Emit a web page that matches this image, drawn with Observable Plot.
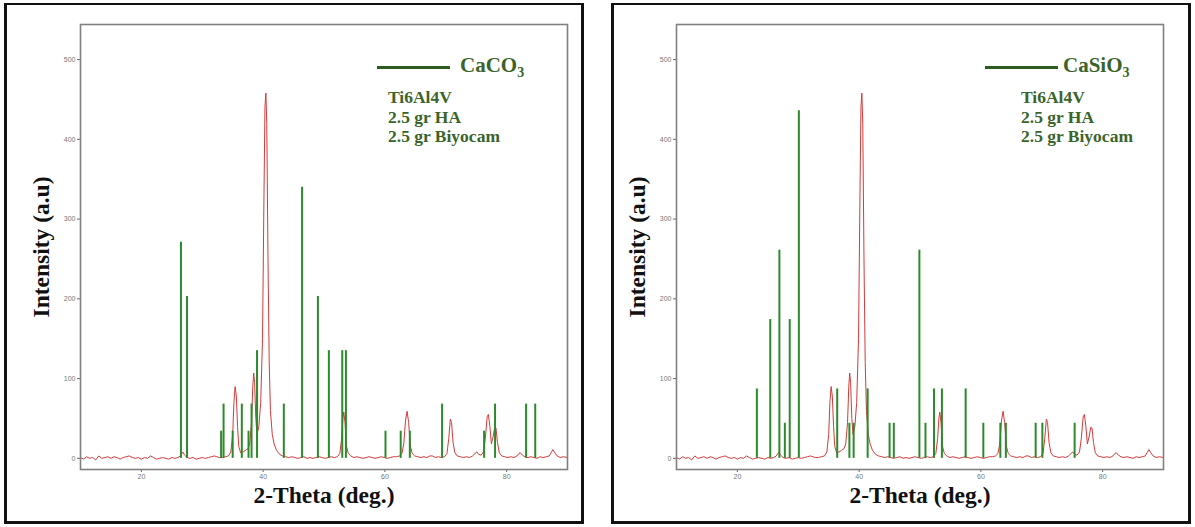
<!DOCTYPE html>
<html>
<head>
<meta charset="utf-8">
<script src="https://cdn.jsdelivr.net/npm/d3@7"></script>
<script src="https://cdn.jsdelivr.net/npm/@observablehq/plot@0.6"></script>
<style>
  html, body { margin: 0; padding: 0; background: #fff; }
  body { position: relative; width: 1195px; height: 527px; overflow: hidden; }
  .box { position: absolute; box-sizing: border-box; border: 3px solid #111; border-top-width: 2px; }
  .chart { position: absolute; top: 0; }
  .leg-line { position: absolute; height: 2.5px; background: #2d5c20; }
  .leg-title { position: absolute; font: bold 21px "Liberation Serif", "Times New Roman", serif; line-height: 20px; color: #3b642a; white-space: nowrap; }
  .leg-title sub { font-size: 14px; vertical-align: -5px; line-height: 0; }
  .leg-body { position: absolute; font: bold 17.5px "Liberation Serif", "Times New Roman", serif; line-height: 19.5px; color: #3b642a; white-space: nowrap; }
</style>
</head>
<body>
<div class="box" style="left:4px;top:3px;width:580px;height:521px;"></div>
<div class="box" style="left:611px;top:3px;width:580px;height:521px;"></div>
<div id="left" class="chart" style="left:0px;"></div>
<div id="right" class="chart" style="left:596px;"></div>

<div class="leg-line" style="left:377px;top:66px;width:73px;"></div>
<div class="leg-title" style="left:460px;top:55px;">CaCO<sub>3</sub></div>
<div class="leg-body" style="left:388px;top:88px;">Ti6Al4V<br>2.5 gr HA<br>2.5 gr Biyocam</div>

<div class="leg-line" style="left:985px;top:66px;width:73px;"></div>
<div class="leg-title" style="left:1063px;top:55px;">CaSiO<sub>3</sub></div>
<div class="leg-body" style="left:1021px;top:88px;">Ti6Al4V<br>2.5 gr HA<br>2.5 gr Biyocam</div>

<script>
// ---- Data ----
const xTicks = [20, 40, 60, 80];
const yTicks = [0, 100, 200, 300, 400, 500];

// Measured XRD pattern (2-theta, intensity) — same sample in both panels
const patternTheta = [
  10,10.5,11,11.5,12,12.5,13,13.5,14,14.5,15,15.5,16,16.5,17,17.5,18,18.5,19,19.5,
  20,20.5,21,21.5,22,22.5,23,23.5,24,24.5,25,25.5,26,26.4,26.8,27.1,27.5,28,28.5,29,
  29.5,30,30.5,31,31.5,32,32.4,32.8,33.3,33.8,34.3,34.7,35.0,35.2,35.4,35.6,35.8,36.0,36.3,36.7,
  37.1,37.5,37.8,38.1,38.3,38.45,38.6,38.8,39.0,39.3,39.6,39.9,40.1,40.3,40.45,40.6,40.8,41.0,41.2,41.5,
  41.8,42.2,42.7,43.2,43.7,44.2,44.7,45.2,45.7,46.2,46.7,47.2,47.7,48.2,48.7,49.2,49.7,50.2,50.7,51.2,
  51.7,52.2,52.6,52.9,53.1,53.25,53.45,53.7,54.0,54.4,54.9,55.4,55.9,56.4,56.9,57.4,57.9,58.4,58.9,59.4,
  59.9,60.4,60.9,61.4,61.9,62.4,62.8,63.1,63.4,63.65,63.9,64.2,64.5,64.9,65.4,65.9,66.4,66.9,67.4,67.8,
  68.3,68.8,69.3,69.8,70.2,70.5,70.75,70.95,71.2,71.5,71.9,72.4,72.9,73.4,73.9,74.4,74.8,75.1,75.4,75.8,
  76.2,76.5,76.8,77.0,77.25,77.5,77.8,78.05,78.25,78.5,78.8,79.2,79.7,80.2,80.7,81.2,81.7,82.0,82.25,82.6,
  83.0,83.5,84.0,84.5,85.0,85.5,86.0,86.5,87.0,87.3,87.6,87.9,88.3,88.8,89.3,90
];
const patternIntensity = [
  1,-1,2,0,1,-2,3,0,1,2,0,2,1,-1,1,2,3,1,0,1,
  -1,1,0,3,1,-1,0,1,0,-1,1,0,1,3,8,4,1,0,1,-1,
  0,1,0,1,2,3,2,1,1,2,3,8,30,70,90,78,40,15,7,8,
  10,12,18,45,90,107,95,50,30,40,70,150,300,440,458,420,250,120,60,30,
  18,10,5,3,2,1,2,1,0,1,2,0,1,0,1,2,1,0,1,2,
  1,2,6,25,50,58,45,15,6,3,1,2,1,0,1,2,1,0,1,2,
  1,0,1,2,2,3,6,18,48,59,45,15,6,3,2,1,2,1,3,3,
  1,2,1,2,6,25,49,45,20,7,3,2,1,2,1,3,6,8,5,4,
  8,25,52,55,40,18,28,39,38,20,7,3,2,1,2,1,3,6,7,4,
  2,1,2,1,0,2,1,2,3,7,11,7,3,1,2,1
];

// Reference stick pattern: CaCO3
const caco3Theta = [26.5,27.5,33.1,33.5,35.0,36.5,37.6,38.1,39.0,43.4,46.4,49.0,50.8,53.0,53.6,60.1,62.6,64.1,69.4,76.3,78.1,83.2,84.7];
const caco3Intensity = [271,203,34,68,34,68,34,68,135,68,340,203,135,135,135,34,34,34,68,34,68,68,68];

// Reference stick pattern: CaSiO3
const casio3Theta = [23.2,25.4,26.9,27.8,28.6,30.1,36.4,38.4,39.1,41.4,45.0,45.7,49.9,50.9,52.3,53.6,57.5,60.4,63.2,64.1,69.0,70.1,75.4];
const casio3Intensity = [87,174,261,44,174,436,87,44,44,87,44,44,261,44,87,87,87,44,44,44,44,44,44];

// ---- Build tables ----
const pattern = patternTheta.map((t, i) => ({t, v: patternIntensity[i]}));
const sticks = (th, iv) => th.map((t, i) => ({t, v: iv[i]}));

function panel(stickData, marginLeft, marginRight) {
  return Plot.plot({
    width: 595, height: 527,
    marginLeft, marginRight, marginTop: 24, marginBottom: 58,
    style: {background: "transparent", overflow: "visible"},
    x: {domain: [10, 90], ticks: xTicks},
    y: {domain: [-14, 544], ticks: yTicks},
    marks: [
      Plot.axisX({ticks: xTicks, tickSize: 3, tickPadding: 2, fontSize: 7, stroke: "#666", fill: "#777",
                  fontFamily: "Liberation Sans, Arial, sans-serif", label: null}),
      Plot.axisY({ticks: yTicks, tickSize: 3, tickPadding: 2, fontSize: 7, stroke: "#666", fill: "#777",
                  fontFamily: "Liberation Sans, Arial, sans-serif", label: null}),
      Plot.line(pattern, {x: "t", y: "v", stroke: "#d43a3a", strokeWidth: 1}),
      Plot.ruleX(stickData, {x: "t", y1: 0, y2: "v", stroke: "#2b8a2b", strokeWidth: 2}),
      Plot.frame({stroke: "#808080", strokeWidth: 1.6}),
      Plot.text(["2-Theta (deg.)"], {frameAnchor: "bottom", dy: 33, text: d => d, fontSize: 23.5,
                 textAnchor: "middle", fontWeight: "bold", fontFamily: "Liberation Serif, Times New Roman, serif", fill: "#111"}),
      Plot.text(["Intensity (a.u)"], {frameAnchor: "left", dx: -39, rotate: -90, text: d => d, fontSize: 23.5,
                 textAnchor: "middle", fontWeight: "bold", fontFamily: "Liberation Serif, Times New Roman, serif", fill: "#111"})
    ]
  });
}

document.getElementById("left").append(panel(sticks(caco3Theta, caco3Intensity), 80, 28));
document.getElementById("right").append(panel(sticks(casio3Theta, casio3Intensity), 80, 28));
</script>
</body>
</html>
